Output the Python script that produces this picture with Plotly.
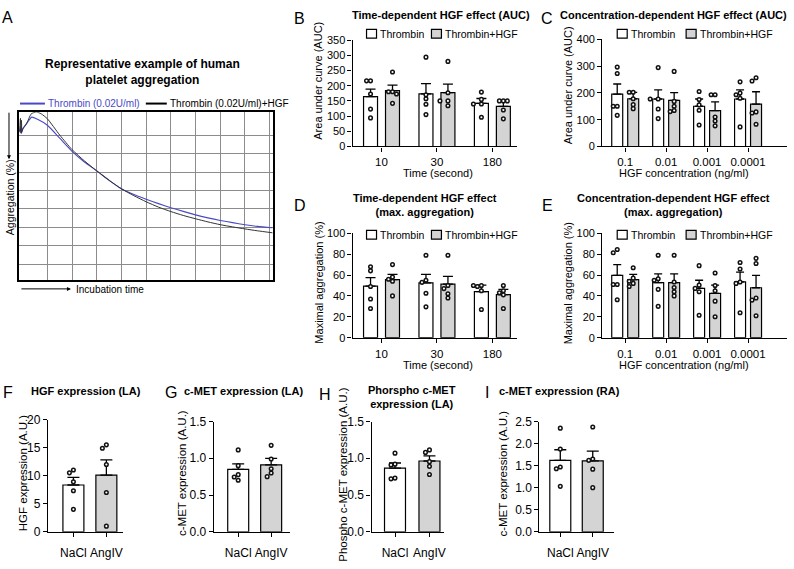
import plotly.graph_objects as go

FONT = "Liberation Sans, Arial, sans-serif"
W, H = 794, 569

# ---------------- data ----------------
# Panel A: representative aggregation traces (arbitrary units)
a_time_blue = [-0.12, -0.08, -0.05, 0.0, 0.2, 0.37, 0.6, 1.0, 1.5, 2.0, 2.5, 3.0, 3.5, 4.0,
               4.5, 5.0, 5.5, 6.0, 6.5, 7.0, 7.5, 8.0, 8.5, 9.0, 9.5, 10.12]
a_agg_blue = [7.15, 7.45, 7.1, 7.3, 7.7, 7.97, 7.85, 7.53, 6.83, 6.12, 5.54, 5.06, 4.55, 4.09,
              3.78, 3.53, 3.29, 3.07, 2.87, 2.68, 2.52, 2.38, 2.26, 2.15, 2.06, 1.98]
a_time_black = [-0.12, -0.09, -0.07, -0.05, -0.03, 0.0, 0.15, 0.35, 0.55, 0.75, 1.0, 1.5, 2.0,
                2.5, 3.0, 3.5, 4.0, 4.5, 5.0, 5.5, 6.0, 6.5, 7.0, 7.5, 8.0, 8.5, 9.0, 9.5, 10.12]
a_agg_black = [7.2, 7.9, 7.1, 7.8, 7.2, 7.35, 7.6, 8.15, 8.25, 8.15, 7.88, 7.0, 6.21,
               5.6, 5.06, 4.55, 4.09, 3.72, 3.39, 3.1, 2.86, 2.65, 2.47, 2.3, 2.15, 2.03, 1.92, 1.82, 1.71]

# Panel B: time-dependent AUC
b_groups = ["10", "30", "180"]
b_thr_mean = [164, 173, 142]
b_thr_sem = [25, 34, 16]
b_hgf_mean = [184, 177, 132]
b_hgf_sem = [18, 28, 18]
b_thr_pts = [[216, 216, 173, 123, 94], [294, 170, 157, 139, 105], [179, 155, 140, 140, 96]]
b_hgf_pts = [[245, 180, 180, 173, 142], [280, 177, 150, 150, 134], [150, 150, 150, 120, 91]]

# Panel C: concentration-dependent AUC
c_groups = ["0.1", "0.01", "0.001", "0.0001"]
c_thr_mean = [195, 177, 150, 177]
c_thr_sem = [38, 34, 27, 34]
c_hgf_mean = [178, 172, 134, 158]
c_hgf_sem = [24, 29, 32, 46]
c_thr_pts = [[296, 272, 150, 150, 116], [294, 177, 177, 140, 104], [205, 175, 155, 135, 80], [241, 199, 193, 180, 73]]
c_hgf_pts = [[202, 202, 178, 156, 141], [280, 168, 150, 134, 130], [193, 193, 110, 95, 77], [256, 244, 129, 125, 83]]

# Panel D: time-dependent max aggregation
d_groups = ["10", "30", "180"]
d_thr_mean = [49.4, 52.5, 44.1]
d_thr_sem = [8.1, 8.1, 6.2]
d_hgf_mean = [55.6, 51.2, 41.3]
d_hgf_sem = [5.0, 7.5, 5.0]
d_thr_pts = [[68, 64, 49, 37, 28], [79, 55, 53, 42.5, 29.5], [50, 50, 49, 45, 27]]
d_hgf_pts = [[70, 58, 56, 54, 40], [79, 50, 47, 42, 38], [50, 45, 43, 41, 28]]

# Panel E: concentration-dependent max aggregation
e_groups = ["0.1", "0.01", "0.001", "0.0001"]
e_thr_mean = [59.6, 52.8, 47.2, 53.4]
e_thr_sem = [10.3, 8.4, 7.8, 9.3]
e_hgf_mean = [55.6, 52.8, 42.5, 47.8]
e_hgf_sem = [5.0, 8.4, 7.8, 11.8]
e_thr_pts = [[84.5, 81.4, 51, 51, 36.3], [79, 56.5, 55, 46.3, 30], [69, 50.3, 47.2, 44, 21.4], [72, 65.8, 53.4, 52, 23.9]]
e_hgf_pts = [[67, 57, 54, 52, 49], [79, 53.4, 48, 44, 40], [62, 50, 45, 35, 20], [76, 71, 38, 36, 21]]

# Panels F-I: NaCl vs AngIV
fi_groups = ["NaCl", "AngIV"]
f_mean = [8.34, 10.1]
f_sem = [1.34, 2.7]
f_pts = [[11.0, 10.5, 8.9, 7.3, 4.0], [15.5, 14.9, 12.0, 7.0, 1.0]]
g_mean = [0.848, 0.91]
g_sem = [0.075, 0.089]
g_pts = [[1.114, 0.90, 0.777, 0.745, 0.70], [1.176, 0.99, 0.857, 0.80, 0.75]]
h_mean = [0.865, 0.963]
h_sem = [0.071, 0.071]
h_pts = [[1.07, 0.92, 0.91, 0.73, 0.72], [1.114, 1.08, 0.954, 0.89, 0.78]]
i_mean = [1.62, 1.61]
i_sem = [0.24, 0.22]
i_pts = [[2.35, 1.875, 1.47, 1.43, 1.03], [2.375, 1.65, 1.62, 1.42, 1.0]]

WHITE = "white"
GRAY = "#d4d4d4"
BLUE = "#4a4ac8"

# ---------------- helpers ----------------
def fx(px):
    return px / W


def fy(py):
    return 1 - py / H


fig = go.Figure()
layout = dict(width=W, height=H, margin=dict(l=0, r=0, t=0, b=0), paper_bgcolor="white",
              plot_bgcolor="white", showlegend=False, barmode="overlay", font=dict(family=FONT, color="black"))
annotations = []
shapes = []


def txt(s, x, y, size, bold=False, color="black", xanchor="center", angle=0):
    annotations.append(dict(text=f"<b>{s}</b>" if bold else s, x=fx(x), y=fy(y), xref="paper", yref="paper",
                            showarrow=False, xanchor=xanchor, yanchor="middle", textangle=angle,
                            borderpad=0, font=dict(size=size, color=color, family=FONT)))


def swarm(values, center, xpp, ypp, diam=4.0):
    placed = []
    xs = [None] * len(values)
    order = sorted(range(len(values)), key=lambda i: -values[i])
    for i in order:
        v = values[i]
        chosen = center
        for k in [0, -1, 1, -2, 2, -3, 3]:
            x = center + k * diam * xpp
            ok = True
            for pv, pxv in placed:
                dy = (v - pv) / ypp
                dx = (x - pxv) / xpp
                if (dx * dx + dy * dy) ** 0.5 < diam:
                    ok = False
                    break
            if ok:
                chosen = x
                break
        placed.append((v, chosen))
        xs[i] = chosen
    return xs


def add_bar_panel(n, groups, series, xpx, ypx, c0, sp, bar_px, yrange, dtick, tickfmt, cap,
                  ytick_size, xtick_size, xstand):
    xa, ya = f"x{n}", f"y{n}"
    xr = [(xpx[0] - c0) / sp, (xpx[1] - c0) / sp]
    xpp = 1.0 / sp
    ypp = (yrange[1] - yrange[0]) / (ypx[1] - ypx[0])
    for s in series:
        pos = [i + s["off"] / sp for i in range(len(groups))]
        fig.add_trace(go.Bar(x=pos, y=s["mean"], width=bar_px / sp, xaxis=xa, yaxis=ya,
                             marker=dict(color=s["colors"], line=dict(color="black", width=1.2)),
                             error_y=dict(type="data", array=s["sem"], arrayminus=[0] * len(groups),
                                          symmetric=False, color="black", thickness=1.3, width=cap)))
        for p, vals in zip(pos, s["pts"]):
            xs = swarm(vals, p, xpp, ypp)
            fig.add_trace(go.Scatter(x=xs, y=vals, mode="markers", xaxis=xa, yaxis=ya, cliponaxis=False,
                                     marker=dict(size=3.6, color="white", line=dict(color="#111111", width=1.5))))
    axis_common = dict(showline=True, linecolor="black", linewidth=1.2, ticks="outside", ticklen=4,
                       tickwidth=1.2, tickcolor="black", showgrid=False, zeroline=False, fixedrange=True)
    layout[f"xaxis{n}"] = dict(domain=[fx(xpx[0]), fx(xpx[1])], range=xr, anchor=ya,
                               tickvals=list(range(len(groups))), ticktext=groups,
                               ticklabelstandoff=xstand,
                               tickfont=dict(size=xtick_size, family=FONT, color="black"), **axis_common)
    layout[f"yaxis{n}"] = dict(domain=[fy(ypx[1]), fy(ypx[0])], range=yrange, anchor=xa,
                               tick0=0, dtick=dtick, tickformat=tickfmt,
                               tickfont=dict(size=ytick_size, family=FONT, color="black"), **axis_common)


def legend_pair(x_white, x_gray, yc):
    for x0, col, label in [(x_white, WHITE, "Thrombin"), (x_gray, GRAY, "Thrombin+HGF")]:
        shapes.append(dict(type="rect", xref="paper", yref="paper", x0=fx(x0), x1=fx(x0 + 10),
                           y0=fy(yc + 4.5), y1=fy(yc - 4.5), fillcolor=col, line=dict(color="black", width=1.2)))
        txt(label, x0 + 12.5, yc, 10.5, xanchor="left")


# ---------------- Panel A ----------------
fig.add_trace(go.Scatter(x=a_time_blue, y=a_agg_blue, mode="lines", xaxis="x", yaxis="y",
                         line=dict(color=BLUE, width=1.1, shape="spline", smoothing=0.6)))
fig.add_trace(go.Scatter(x=a_time_black, y=a_agg_black, mode="lines", xaxis="x", yaxis="y",
                         line=dict(color="#333333", width=1.0, shape="spline", smoothing=0.6)))
layout["xaxis"] = dict(domain=[fx(19), fx(273)], range=[-0.15, 10.12], tickvals=list(range(1, 11)),
                       showgrid=True, gridcolor="#8c8c8c", gridwidth=1, showticklabels=False, ticks="",
                       showline=True, mirror=True, linecolor="black", linewidth=2, zeroline=False,
                       anchor="y", fixedrange=True)
layout["yaxis"] = dict(domain=[fy(280), fy(108)], range=[-0.85, 8.23], tickvals=list(range(0, 8)),
                       showgrid=True, gridcolor="#8c8c8c", gridwidth=1, showticklabels=False, ticks="",
                       showline=True, mirror=True, linecolor="black", linewidth=2, zeroline=False,
                       anchor="x", fixedrange=True)

txt("A", 8, 11, 16)
txt("Representative example of human<br>platelet aggregation", 143, 66.5, 12, bold=True)
shapes.append(dict(type="line", xref="paper", yref="paper", x0=fx(20), x1=fx(45), y0=fy(99), y1=fy(99),
                   line=dict(color=BLUE, width=2)))
txt("Thrombin (0.02U/ml)", 47.5, 99, 10, color=BLUE, xanchor="left")
shapes.append(dict(type="line", xref="paper", yref="paper", x0=fx(146), x1=fx(167), y0=fy(99), y1=fy(99),
                   line=dict(color="black", width=2)))
txt("Thrombin (0.02U/ml)+HGF", 169.5, 99, 10, xanchor="left")
txt("Aggregation (%)", 10, 195, 10.5, angle=-90)
txt("Incubation time", 75, 290, 10, xanchor="left")
annotations.append(dict(x=fx(9), y=fy(156), xref="paper", yref="paper", text="", showarrow=True,
                        ax=0, ay=-48, arrowhead=2, arrowsize=0.8, arrowwidth=1, arrowcolor="black"))
annotations.append(dict(x=fx(71), y=fy(289), xref="paper", yref="paper", text="", showarrow=True,
                        ax=-51, ay=0, arrowhead=2, arrowsize=0.8, arrowwidth=1, arrowcolor="black"))

# ---------------- Panels B-E ----------------
def two_series(tm, ts, tp, hm, hs, hp, off):
    return [dict(off=-off, mean=tm, sem=ts, pts=tp, colors=WHITE),
            dict(off=off, mean=hm, sem=hs, pts=hp, colors=GRAY)]


add_bar_panel(2, b_groups, two_series(b_thr_mean, b_thr_sem, b_thr_pts, b_hgf_mean, b_hgf_sem, b_hgf_pts, 11),
              (353, 518), (34, 143), 382, 55.5, 14, [0, 350], 50, "d", 5, 11, 11.5, 1)
add_bar_panel(3, c_groups, two_series(c_thr_mean, c_thr_sem, c_thr_pts, c_hgf_mean, c_hgf_sem, c_hgf_pts, 8),
              (603, 788), (33, 143), 626, 41, 11, [0, 400], 100, "d", 4, 11, 11.5, 1)
add_bar_panel(4, d_groups, two_series(d_thr_mean, d_thr_sem, d_thr_pts, d_hgf_mean, d_hgf_sem, d_hgf_pts, 11),
              (353, 518), (232, 339), 382, 55.5, 14, [0, 100], 20, "d", 5, 11, 11.5, 1)
add_bar_panel(5, e_groups, two_series(e_thr_mean, e_thr_sem, e_thr_pts, e_hgf_mean, e_hgf_sem, e_hgf_pts, 8),
              (603, 788), (232, 339), 626, 41, 11, [0, 100], 20, "d", 4, 11, 11.5, 1)

txt("B", 300, 12, 16)
txt("Time-dependent HGF effect (AUC)", 442, 8, 11, bold=True)
legend_pair(367, 432, 27.5)
txt("Area under curve (AUC)", 319, 76, 11, angle=-90)
txt("Time (second)", 439, 170, 11)

txt("C", 548, 12, 16)
txt("Concentration-dependent HGF effect (AUC)", 674, 8, 11, bold=True)
legend_pair(618, 687, 27.5)
txt("Area under curve (AUC)", 569, 80, 11, angle=-90)
txt("HGF concentration (ng/ml)", 685, 170, 11)

txt("D", 300, 203, 16)
txt("Time-dependent HGF effect<br>(max. aggregation)", 426, 203.5, 11, bold=True)
legend_pair(367, 432, 233.5)
txt("Maximal aggregation (%)", 319, 283, 11, angle=-90)
txt("Time (second)", 439, 367, 11)

txt("E", 548, 203, 16)
txt("Concentration-dependent HGF effect<br>(max. aggregation)", 674, 203.5, 11, bold=True)
legend_pair(618, 687, 233.5)
txt("Maximal aggregation (%)", 569, 283, 11, angle=-90)
txt("HGF concentration (ng/ml)", 685, 367, 11)

# ---------------- Panels F-I ----------------
def one_series(m, s, p):
    return [dict(off=0, mean=m, sem=s, pts=p, colors=[WHITE, GRAY])]


add_bar_panel(6, fi_groups, one_series(f_mean, f_sem, f_pts), (48, 123), (423, 538), 73.5, 33, 21,
              [0, 20], 5, "d", 6, 12, 12, 6)
add_bar_panel(7, fi_groups, one_series(g_mean, g_sem, g_pts), (214, 290), (425, 538), 238.5, 33, 21,
              [0, 1.5], 0.5, ".1f", 6, 12, 12, 6)
add_bar_panel(8, fi_groups, one_series(h_mean, h_sem, h_pts), (372, 445), (425, 538), 395.5, 34.5, 21,
              [0, 1.5], 0.5, ".1f", 6, 12, 12, 6)
add_bar_panel(9, fi_groups, one_series(i_mean, i_sem, i_pts), (540, 615), (425, 538), 561, 32.5, 21,
              [0, 2.5], 0.5, ".1f", 6, 12, 12, 6)

txt("F", 8, 395, 16)
txt("HGF expression (LA)", 86, 394, 11, bold=True)
txt("HGF expression (A.U.)", 23, 478, 11.5, angle=-90)

txt("G", 171, 395, 16)
txt("c-MET expression (LA)", 244, 394, 11, bold=True)
txt("c-MET expression (A.U.)", 182, 478, 11.5, angle=-90)

txt("H", 325, 397, 16)
txt("Phorspho c-MET<br>expression (LA)", 413, 399.5, 11, bold=True)
txt("Phospho c-MET expression (A.U.)", 344, 480, 11.5, angle=-90)

txt("I", 488, 395, 16)
txt("c-MET expression (RA)", 560, 394, 11, bold=True)
txt("c-MET expression (A.U.)", 504, 478, 11.5, angle=-90)

layout["annotations"] = annotations
layout["shapes"] = shapes
fig.update_layout(**layout)
fig.write_html("out.html")
